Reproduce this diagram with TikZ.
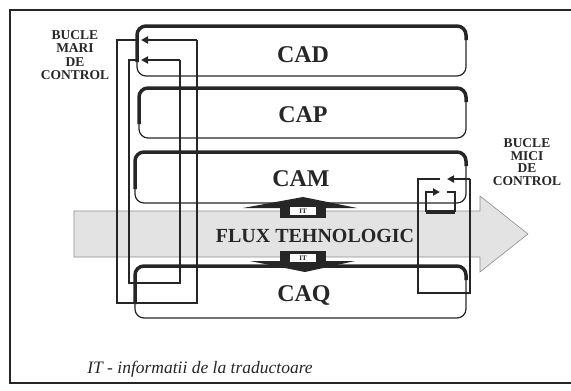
\documentclass[tikz,border=0pt]{standalone}
\usepackage{fontspec}
\setmainfont{Liberation Serif}
\usetikzlibrary{arrows.meta}
\definecolor{ink}{HTML}{262626}
\begin{document}
\begin{tikzpicture}[x=1pt,y=-1pt,
  box/.style={draw=ink, line width=1.2pt, rounded corners=9pt, inner sep=0pt, outer sep=0pt},
  thickedge/.style={draw=ink, line width=3.5pt, rounded corners=9pt},
  loopline/.style={draw=ink, line width=2.3pt},
  tipl/.style={-{Triangle[length=7pt,width=7pt]}},
  lbl/.style={font=\bfseries\fontsize{24}{24}\selectfont, text=ink, inner sep=0pt},
  small/.style={font=\bfseries\fontsize{13.5}{13.5}\selectfont, text=ink, align=center, inner sep=0pt},
  itdark/.style={fill=ink, minimum width=46pt, minimum height=15pt, inner sep=0pt},
  itwhite/.style={fill=white, minimum width=26pt, minimum height=8pt, inner sep=0pt, text=ink, font=\bfseries\fontsize{7}{7}\selectfont}
]
\useasboundingbox (0,0) rectangle (571,391);
% frame
\draw[ink, line width=1.3pt] (571,10) -- (10,10) -- (10,383) -- (571,383);

% technological flow arrow
\path[fill=black!11, draw=black!45, line width=0.6pt]
  (74,211) -- (480,211) -- (480,196) -- (528,234) -- (480,272) -- (480,257) -- (74,257) -- cycle;

% boxes
\node[box, minimum width=329pt, minimum height=50pt] (cad) at (301.5,51) {};
\node[box, minimum width=327pt, minimum height=50pt] (cap) at (302.5,113) {};
\node[box, minimum width=331pt, minimum height=51pt] (cam) at (300.5,177.5) {};
\node[box, minimum width=331pt, minimum height=52pt] (caq) at (300.5,292) {};
\foreach \b in {cad,cap,cam,caq}{
  \draw[thickedge] ([yshift=14pt]\b.south west) |- (\b.north east) -- ([yshift=-14pt]\b.north east);
}

% labels
\node[lbl] (cadt) at (303,55) {CAD};
\node[lbl] (capt) at (303,115) {CAP};
\node[lbl] (camt) at (301,178.5) {CAM};
\node[lbl] (caqt) at (304,295) {CAQ};
\node[font=\bfseries\fontsize{20}{20}\selectfont, text=ink, inner sep=0pt] (flux) at (315,236) {FLUX TEHNOLOGIC};

% IT symbols
\fill[ink] (243,208) -- (303,197) -- (357,208) -- cycle;
\node[itdark] (itu) at (303,210.5) {};
\node[itwhite] (itut) at (303,211) {IT};
\fill[ink] (250,261) -- (305,272) -- (355,261) -- cycle;
\node[itdark] (itd) at (303,258) {};
\node[itwhite] (itdt) at (303,258) {IT};

% large control loops
\coordinate (a0) at (137,40);
\coordinate (a1) at (141,40);
\coordinate (b0) at (137,60);
\coordinate (b1) at (141,60);
\draw[loopline] (a0) -- (117,40) -- (117,303) -- (197,303) -- (197,40);
\draw[loopline, tipl] (197,40) -- (a1);
\draw[loopline] (b0) -- (129,60) -- (129,283) -- (180,283) -- (180,60);
\draw[loopline, tipl] (180,60) -- (b1);

% small control loops
\coordinate (c0) at (440,179);
\coordinate (c1) at (447,179);
\coordinate (d0) at (447,192);
\coordinate (d1) at (440,192);
\draw[loopline] (c0) -- (418,179) -- (418,293) -- (470,293) -- (470,179);
\draw[loopline, tipl] (470,179) -- (c1);
\draw[loopline] (d0) -- (455,192) -- (455,212);
\draw[ink, line width=3.2pt] (455,212) -- (426,212);
\draw[loopline, tipl] (426,212) -- (426,192) -- (d1);

% texts
\node[small] (bm) at (75,55) {BUCLE\\MARI\\DE\\CONTROL};
\node[small, font=\bfseries\fontsize{13.5}{12.5}\selectfont] (bmi) at (527,162) {BUCLE\\MICI\\DE\\CONTROL};
\node[font=\itshape\fontsize{17.5}{17.5}\selectfont, text=ink, inner sep=0pt] (leg) at (200,369) {IT - informatii de la traductoare};
\end{tikzpicture}
\end{document}
